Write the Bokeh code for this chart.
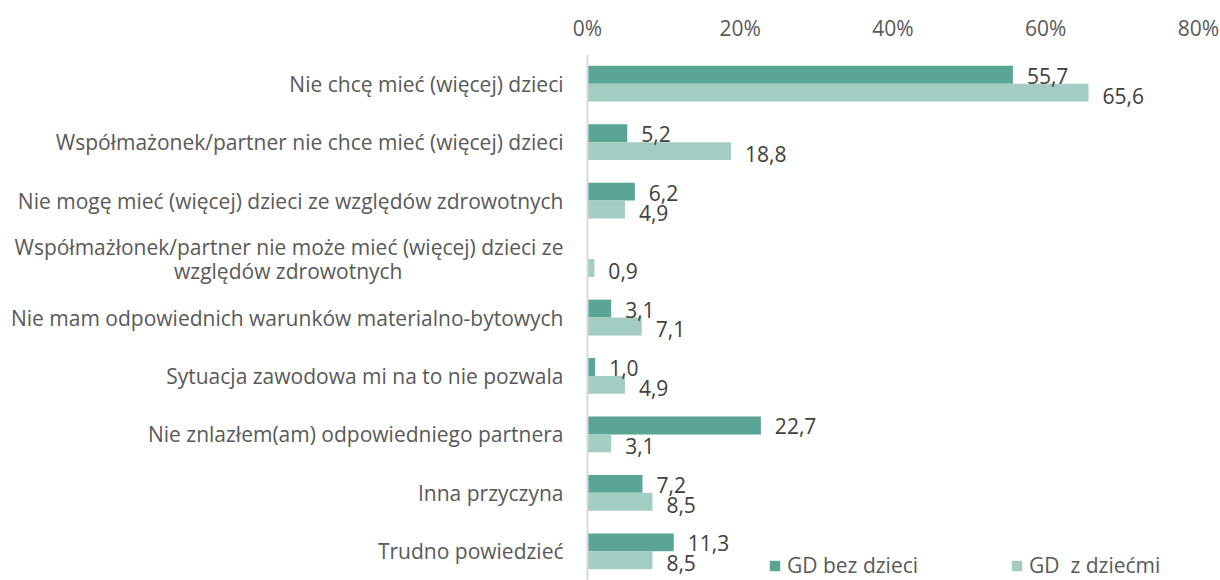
from bokeh.plotting import figure
from bokeh.models import ColumnDataSource, FactorRange, Range1d, FixedTicker, Span, Legend, LegendItem, CustomJSTickFormatter
from bokeh.transform import dodge
from bokeh.core.properties import value
from bokeh.embed import file_html
from bokeh.resources import INLINE

categories = [
    "Nie chcę mieć (więcej) dzieci",
    "Współmażonek/partner nie chce mieć (więcej) dzieci",
    "Nie mogę mieć (więcej) dzieci ze względów zdrowotnych",
    "Współmażłonek/partner nie może mieć (więcej) dzieci ze\nwzględów zdrowotnych",
    "Nie mam odpowiednich warunków materialno-bytowych",
    "Sytuacja zawodowa mi na to nie pozwala",
    "Nie znlazłem(am) odpowiedniego partnera",
    "Inna przyczyna",
    "Trudno powiedzieć",
]
bez_dzieci = [55.7, 5.2, 6.2, None, 3.1, 1.0, 22.7, 7.2, 11.3]
z_dziecmi = [65.6, 18.8, 4.9, 0.9, 7.1, 4.9, 3.1, 8.5, 8.5]
series_names = ["GD bez dzieci", "GD  z dziećmi"]
x_ticks = [0, 20, 40, 60, 80]

DARK = "#5BA595"
LIGHT = "#A3CDC2"
FONT = "Open Sans"
FS = "21px"

def fmt(v):
    return "" if v is None else ("%.1f" % v).replace(".", ",")

nan = float("nan")
src = ColumnDataSource(dict(
    cat=categories,
    a=[nan if v is None else v for v in bez_dzieci],
    b=z_dziecmi,
    a_lbl=[fmt(v) for v in bez_dzieci],
    b_lbl=[fmt(v) for v in z_dziecmi],
))

single = [c for c in categories if "\n" not in c]
multi = [c for c in categories if "\n" in c]
multi_l1 = [c.split("\n")[0] for c in multi]
multi_l2 = [c.split("\n")[1] for c in multi]

p = figure(width=1220, height=580, output_backend="svg", toolbar_location=None,
           y_range=FactorRange(*reversed(categories)),
           x_range=Range1d(-76.857, 82.88),
           x_axis_location="above", y_axis_location=None,
           min_border_left=0, min_border_right=0, min_border_bottom=0, min_border_top=54)
p.outline_line_color = None
p.xgrid.visible = False
p.ygrid.visible = False
p.background_fill_color = None
p.border_fill_color = None

H = 0.306
OFF = 0.153
r1 = p.hbar(y=dodge("cat", OFF, range=p.y_range), left=0, right="a", height=H,
            color=DARK, line_color=None, source=src)
r2 = p.hbar(y=dodge("cat", -OFF, range=p.y_range), left=0, right="b", height=H,
            color=LIGHT, line_color=None, source=src)

p.text(x="a", y=dodge("cat", OFF, range=p.y_range), text="a_lbl", source=src,
       x_offset=14, y_offset=1, text_baseline="middle", text_align="left",
       text_font=value(FONT), text_font_size=FS, text_color="#404040")
p.text(x="b", y=dodge("cat", -OFF, range=p.y_range), text="b_lbl", source=src,
       x_offset=14, y_offset=3, text_baseline="middle", text_align="left",
       text_font=value(FONT), text_font_size=FS, text_color="#404040")

p.text(x=[0] * len(single), y=single, text=single, x_offset=-24,
       text_baseline="middle", text_align="right",
       text_font=value(FONT), text_font_size=FS, text_color="#595959")
p.text(x=[0] * len(multi), y=multi, text=multi_l1, x_offset=-24, y_offset=-12,
       text_baseline="middle", text_align="right",
       text_font=value(FONT), text_font_size=FS, text_color="#595959")
p.text(x=[0] * len(multi), y=multi, text=multi_l2, x_offset=-185, y_offset=12,
       text_baseline="middle", text_align="right",
       text_font=value(FONT), text_font_size=FS, text_color="#595959")

p.add_layout(Span(location=0, dimension="height", line_color="#D9D9D9", line_width=2))

ax = p.xaxis[0]
ax.ticker = FixedTicker(ticks=x_ticks)
ax.formatter = CustomJSTickFormatter(code="return tick + '%';")
ax.axis_line_color = None
ax.major_tick_line_color = None
ax.minor_tick_line_color = None
ax.major_tick_out = 0
ax.major_tick_in = 0
ax.major_label_standoff = 13
ax.major_label_text_font = FONT
ax.major_label_text_font_size = FS
ax.major_label_text_color = "#595959"

legend = Legend(items=[LegendItem(label=series_names[0], renderers=[r1]),
                       LegendItem(label=series_names[1], renderers=[r2])],
                orientation="horizontal", location=(768, 1))
legend.background_fill_alpha = 0
legend.border_line_color = None
legend.padding = 0
legend.margin = 0
legend.spacing = 92
legend.glyph_width = 13
legend.glyph_height = 13
legend.label_height = 18
legend.label_standoff = 6
legend.label_text_font = FONT
legend.label_text_font_size = FS
legend.label_text_color = "#595959"
p.add_layout(legend, "center")

open("out.html", "w").write(file_html(p, INLINE))
